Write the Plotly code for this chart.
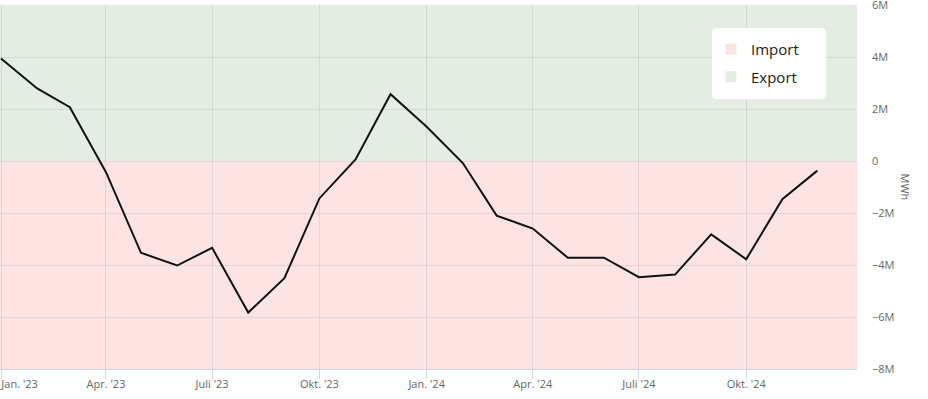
import plotly.graph_objects as go

months = ["2023-01-01", "2023-02-01", "2023-03-01", "2023-04-01", "2023-05-01", "2023-06-01",
          "2023-07-01", "2023-08-01", "2023-09-01", "2023-10-01", "2023-11-01", "2023-12-01",
          "2024-01-01", "2024-02-01", "2024-03-01", "2024-04-01", "2024-05-01", "2024-06-01",
          "2024-07-01", "2024-08-01", "2024-09-01", "2024-10-01", "2024-11-01", "2024-12-01"]
balance_mwh = [3.94e6, 2.79e6, 2.07e6, -0.43e6, -3.53e6, -4.02e6,
               -3.34e6, -5.83e6, -4.51e6, -1.44e6, 0.06e6, 2.57e6,
               1.32e6, -0.08e6, -2.10e6, -2.60e6, -3.72e6, -3.72e6,
               -4.47e6, -4.37e6, -2.82e6, -3.78e6, -1.47e6, -0.37e6]

x_tickvals = ["2023-01-01", "2023-04-01", "2023-07-01", "2023-10-01",
              "2024-01-01", "2024-04-01", "2024-07-01", "2024-10-01"]
x_ticktext = ["\u00a0" * 13 + "Jan. '23", "Apr. '23", "Juli '23", "Okt. '23",
              "Jan. '24", "Apr. '24", "Juli '24", "Okt. '24"]
y_tickvals = [6e6, 4e6, 2e6, 0, -2e6, -4e6, -6e6, -8e6]
y_ticktext = ["6M", "4M", "2M", "0", "\u22122M", "\u22124M", "\u22126M", "\u22128M"]

legend_names = ["Import", "Export"]
legend_colors = ["#fee3e3", "#e3ede3"]

W, H = 928, 399
ML, MR, MT, MB = 0, 71, 5, 30
PW, PH = W - ML - MR, H - MT - MB

fig = go.Figure()
fig.add_trace(go.Scatter(x=months, y=balance_mwh, mode="lines",
                         line=dict(color="#111111", width=2), showlegend=False,
                         hoverinfo="skip"))
for name, col in zip(legend_names, legend_colors):
    fig.add_trace(go.Scatter(x=[None], y=[None], mode="markers", name=name,
                             legendgroup=name,
                             marker=dict(symbol="square", size=11, color=col,
                                         line=dict(width=0))))

# background bands
fig.add_shape(type="rect", xref="paper", yref="y", x0=0, x1=1, y0=0, y1=6e6,
              fillcolor="#e3ede3", line_width=0, layer="below")
fig.add_shape(type="rect", xref="paper", yref="y", x0=0, x1=1, y0=-8e6, y1=0,
              fillcolor="#fee3e3", line_width=0, layer="below")

# rounded white legend box
bx0, bx1, by0, by1 = 712, 826, 28, 99
r = 5
def px(x):
    return (x - ML) / PW
def py(y):
    return (H - MB - y) / PH
path = (f"M {px(bx0 + r)},{py(by0)} L {px(bx1 - r)},{py(by0)} "
        f"Q {px(bx1)},{py(by0)} {px(bx1)},{py(by0 + r)} "
        f"L {px(bx1)},{py(by1 - r)} Q {px(bx1)},{py(by1)} {px(bx1 - r)},{py(by1)} "
        f"L {px(bx0 + r)},{py(by1)} Q {px(bx0)},{py(by1)} {px(bx0)},{py(by1 - r)} "
        f"L {px(bx0)},{py(by0 + r)} Q {px(bx0)},{py(by0)} {px(bx0 + r)},{py(by0)} Z")
fig.add_shape(type="path", xref="paper", yref="paper", path=path,
              fillcolor="white", line_width=0, layer="above")

fig.add_annotation(text="MWh", xref="paper", yref="paper", x=1, y=0.5,
                   xshift=58, textangle=90, showarrow=False,
                   font=dict(family="Open Sans", size=11, color="#666666"))

fig.update_layout(
    width=W, height=H,
    margin=dict(l=ML, r=MR, t=MT, b=MB, pad=0, autoexpand=False),
    paper_bgcolor="white", plot_bgcolor="white",
    font=dict(family="Open Sans", size=11, color="#666666"),
    showlegend=True,
    legend=dict(x=px(bx0 - 1), y=py(by0 + 5), xanchor="left", yanchor="top",
                bgcolor="rgba(0,0,0,0)", borderwidth=0,
                font=dict(family="Open Sans", size=15, color="#222222"),
                tracegroupgap=5, traceorder="grouped", itemsizing="trace"),
    xaxis=dict(type="date", range=["2022-12-31 03:00", "2025-01-04"],
               tickvals=x_tickvals, ticktext=x_ticktext, automargin=False,
               ticklabeloverflow="allow", ticklabelstandoff=-4,
               showgrid=True, gridcolor="rgba(0,0,0,0.08)", gridwidth=1,
               showline=True, linecolor="#ccd6eb", linewidth=1,
               ticks="outside", ticklen=9, tickcolor="#ccd6eb", tickwidth=1,
               tickfont=dict(size=11, color="#666666"),
               zeroline=False, fixedrange=True),
    yaxis=dict(side="right", range=[-8e6, 6e6], tickvals=y_tickvals, ticktext=y_ticktext,
               automargin=False, ticklabeloverflow="allow",
               showgrid=True, gridcolor="rgba(0,0,0,0.07)", gridwidth=1,
               showline=False, zeroline=False, ticks="", ticklabelstandoff=14,
               tickfont=dict(size=11, color="#666666"), fixedrange=True),
)

fig.write_html("out.html", config={"displayModeBar": False},
               post_script="document.body.style.margin='0';")
